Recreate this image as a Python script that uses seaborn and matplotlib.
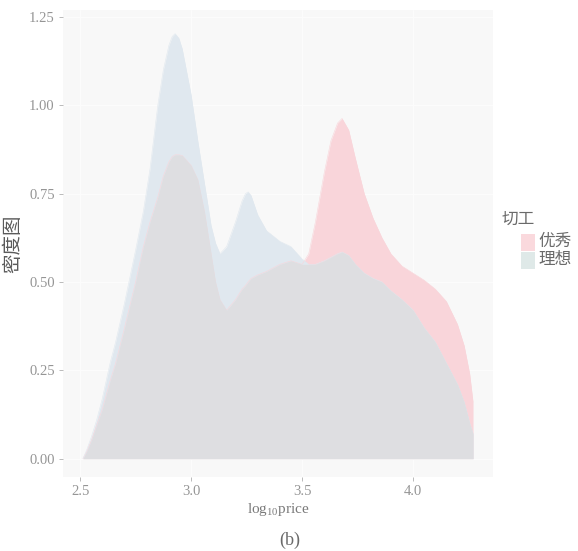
import numpy as np
import pandas as pd
import matplotlib
matplotlib.use("Agg")
import matplotlib.pyplot as plt
from matplotlib.patches import Rectangle
import seaborn as sns

# Density of log10(price) for two diamond cuts, sampled on a shared grid
log_price = [2.513, 2.53, 2.55, 2.575, 2.6, 2.635, 2.66, 2.7, 2.75, 2.785,
             2.815, 2.85, 2.875, 2.9, 2.915, 2.928, 2.945, 2.96, 3.0, 3.03,
             3.06, 3.09, 3.11, 3.13, 3.16, 3.2, 3.23, 3.245, 3.257, 3.27,
             3.3, 3.34, 3.4, 3.45, 3.5, 3.53, 3.56, 3.6, 3.63, 3.66,
             3.68, 3.71, 3.74, 3.78, 3.82, 3.86, 3.9, 3.95, 4.0, 4.05,
             4.1, 4.15, 4.2, 4.23, 4.255, 4.27]
density_premium = [0.0, 0.02, 0.05, 0.095, 0.14, 0.22, 0.27, 0.37, 0.50, 0.60,
                   0.67, 0.74, 0.80, 0.84, 0.855, 0.86, 0.86, 0.858, 0.83, 0.79,
                   0.70, 0.58, 0.50, 0.45, 0.42, 0.45, 0.48, 0.49, 0.50, 0.51,
                   0.52, 0.53, 0.55, 0.56, 0.55, 0.58, 0.67, 0.81, 0.90, 0.95,
                   0.963, 0.93, 0.85, 0.75, 0.68, 0.625, 0.58, 0.545, 0.525, 0.505,
                   0.48, 0.445, 0.38, 0.32, 0.24, 0.16]
density_ideal = [0.0, 0.025, 0.06, 0.11, 0.17, 0.27, 0.33, 0.44, 0.59, 0.70,
                 0.82, 1.00, 1.10, 1.17, 1.195, 1.203, 1.19, 1.16, 1.03, 0.90,
                 0.78, 0.66, 0.61, 0.58, 0.60, 0.67, 0.73, 0.75, 0.755, 0.745,
                 0.69, 0.645, 0.615, 0.60, 0.565, 0.55, 0.55, 0.56, 0.57, 0.58,
                 0.585, 0.575, 0.55, 0.525, 0.51, 0.50, 0.475, 0.45, 0.42, 0.37,
                 0.33, 0.27, 0.21, 0.16, 0.10, 0.07]

cut_labels = ["优秀", "理想"]
x_ticks = [2.5, 3.0, 3.5, 4.0]
y_ticks = [0.00, 0.25, 0.50, 0.75, 1.00, 1.25]

fill_colors = {"优秀": "#f9d5da", "理想": "#e0e8ef"}
overlap_color = "#dedee1"
legend_colors = {"优秀": "#fad9dd", "理想": "#dfe9e8"}

df = pd.DataFrame({
    "log_price": log_price * 2,
    "density": density_premium + density_ideal,
    "cut": [cut_labels[0]] * len(log_price) + [cut_labels[1]] * len(log_price),
})

sns.set_theme(style="white")
plt.rcParams["font.family"] = ["Liberation Serif", "Noto Sans CJK SC", "DejaVu Sans"]
plt.rcParams["mathtext.fontset"] = "custom"
plt.rcParams["mathtext.rm"] = "Liberation Serif"

fig = plt.figure(figsize=(5.78, 5.51), dpi=100, facecolor="white")
ax = fig.add_axes([63 / 578, 1 - 477 / 551, 430 / 578, 467 / 551])
ax.set_facecolor("#f8f8f8")

for y in y_ticks:
    ax.axhline(y, color="#fcfcfc", lw=0.8, zorder=0)
for x in x_ticks:
    ax.axvline(x, color="#fcfcfc", lw=0.8, zorder=0)

for cut in cut_labels:
    sub = df[df["cut"] == cut]
    ax.fill_between(sub["log_price"], 0, sub["density"],
                    color=fill_colors[cut], lw=0, zorder=1)
    sns.lineplot(data=sub, x="log_price", y="density", ax=ax,
                 color=fill_colors[cut], lw=0.4, zorder=1.5,
                 legend=False, estimator=None, sort=False)

overlap = np.minimum(np.array(density_premium), np.array(density_ideal))
ax.fill_between(log_price, 0, overlap, color=overlap_color, lw=0, zorder=2)

ax.set_xlim(2.423, 4.36)
ax.set_ylim(-0.052, 1.27)
ax.set_xticks(x_ticks)
ax.set_xticklabels([f"{v:.1f}" for v in x_ticks])
ax.set_yticks(y_ticks)
ax.set_yticklabels([f"{v:.2f}" for v in y_ticks])
ax.tick_params(axis="both", colors="#b0b0b0", labelcolor="#959595",
               labelsize=10.5, length=3, width=0.6, pad=3,
               left=True, bottom=True)
for s in ax.spines.values():
    s.set_visible(False)

ax.set_xlabel(r"log$_{10}$price", fontsize=11, color="#7a7a7a", labelpad=2)
ax.set_ylabel("密度图", fontsize=14, color="#5a5a5a", labelpad=5)

fig.text(290 / 578, 1 - 540 / 551, "(b)", ha="center", va="center",
         fontsize=13, color="#6a6a6a")

# Legend
fig.text(502 / 578, 1 - 220 / 551, "切工", ha="left", va="center",
         fontsize=12, color="#6a6a6a")
key_w, key_h = 14 / 578, 17 / 551
for i, cut in enumerate(cut_labels):
    yc = 242 + i * 18
    fig.patches.append(Rectangle((521 / 578, 1 - (yc + 9) / 551), key_w, key_h,
                                 transform=fig.transFigure,
                                 color=legend_colors[cut], lw=0))
    fig.text(538 / 578, 1 - yc / 551, cut, ha="left", va="center",
             fontsize=12, color="#6a6a6a")

fig.savefig("out.png", dpi=100, facecolor="white")
